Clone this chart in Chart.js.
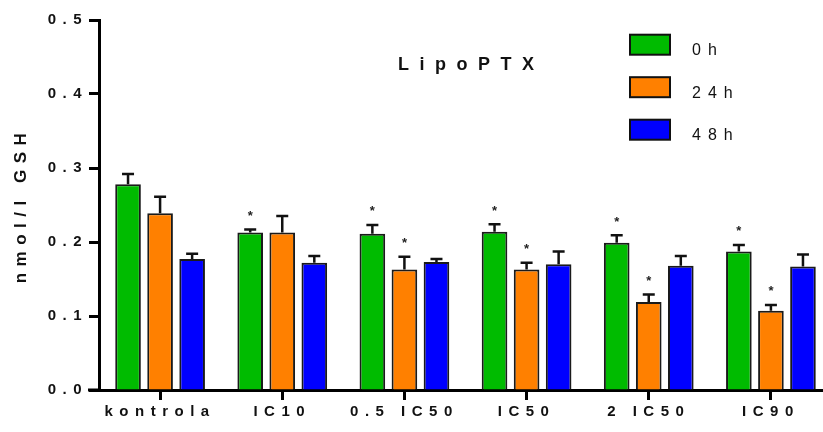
<!DOCTYPE html>
<html>
<head>
<meta charset="utf-8">
<script src="https://cdn.jsdelivr.net/npm/chart.js@4.4.0/dist/chart.umd.min.js"></script>
<style>
html, body { margin: 0; padding: 0; background: #fff; overflow: hidden; }
#wrap { width: 832px; height: 432px; }
</style>
</head>
<body>
<div id="wrap"><canvas id="gshChart" width="832" height="432"></canvas></div>
<script>
// data
var categories = ["kontrola", "IC10", "0.5 IC50", "IC50", "2 IC50", "IC90"];
var seriesNames = ["0h", "24h", "48h"];
var values0h  = [0.278, 0.213, 0.211, 0.214, 0.199, 0.187];
var values24h = [0.239, 0.213, 0.163, 0.163, 0.119, 0.107];
var values48h = [0.177, 0.172, 0.173, 0.170, 0.168, 0.167];
var err0h  = [0.014, 0.004, 0.012, 0.010, 0.010, 0.009];
var err24h = [0.022, 0.022, 0.017, 0.009, 0.010, 0.008];
var err48h = [0.007, 0.009, 0.004, 0.017, 0.013, 0.016];
var sig0h  = [false, true, true, true, true, true];
var sig24h = [false, false, true, true, true, true];
var sig48h = [false, false, false, false, false, false];
var yTicks = [0, 0.1, 0.2, 0.3, 0.4, 0.5];
var chartTitle = "LipoPTX";
var yTitle = "nmol/l GSH";

var FONT = '"Liberation Sans", Arial, sans-serif';
var colors = ["#00BB00", "#FF8000", "#0000FF"];

(function(){

	var spacing = {
		id: 'spacing',
		beforeUpdate: function(chart){ chart.ctx.letterSpacing = '6.5px'; },
		beforeDraw: function(chart){ chart.ctx.letterSpacing = '6.5px'; }
	};

	// error bars + asterisks
	var errorBars = {
		id: 'errorBars',
		afterDatasetsDraw: function(chart){
			var ctx = chart.ctx;
			var y = chart.scales.y;
			ctx.save();
			ctx.letterSpacing = '0px';
			chart.data.datasets.forEach(function(ds, i){
				var meta = chart.getDatasetMeta(i);
				meta.data.forEach(function(bar, j){
					var top = y.getPixelForValue(ds.data[j] + ds.errors[j]);
					ctx.strokeStyle = '#111';
					ctx.lineWidth = 2.5;
					ctx.beginPath();
					ctx.moveTo(bar.x, bar.y);
					ctx.lineTo(bar.x, top);
					ctx.moveTo(bar.x - 6, top);
					ctx.lineTo(bar.x + 6, top);
					ctx.stroke();
					if (ds.sig[j]) {
						ctx.fillStyle = '#222';
						ctx.font = 'bold 13px ' + FONT;
						ctx.textAlign = 'center';
						ctx.textBaseline = 'alphabetic';
						ctx.fillText('*', bar.x, top - 9.5);
					}
				});
			});
			ctx.restore();
		}
	};

	// title inside the plot + legend boxes top right
	var decor = {
		id: 'decor',
		afterDraw: function(chart){
			var ctx = chart.ctx;
			var area = chart.chartArea;
			ctx.save();
			// x axis line runs a little past the y axis, as in the original
			ctx.strokeStyle = '#000';
			ctx.lineWidth = 3;
			ctx.beginPath();
			ctx.moveTo(area.left - 11, area.bottom);
			ctx.lineTo(area.left, area.bottom);
			ctx.stroke();

			ctx.fillStyle = '#111';
			ctx.font = 'bold 18px ' + FONT;
			ctx.letterSpacing = '10.5px';
			ctx.textAlign = 'left';
			ctx.textBaseline = 'alphabetic';
			ctx.fillText(chartTitle, 398, 70);

			ctx.letterSpacing = '7px';
			ctx.font = '16px ' + FONT;
			chart.data.datasets.forEach(function(ds, i){
				var cy = 44.7 + i * 42.5;
				ctx.fillStyle = ds.backgroundColor;
				ctx.fillRect(630, cy - 10, 40, 20);
				ctx.strokeStyle = '#111';
				ctx.lineWidth = 2;
				ctx.strokeRect(630, cy - 10, 40, 20);
				ctx.fillStyle = '#111';
				ctx.fillText(ds.label, 692, cy + 10.5);
			});
			ctx.restore();
		}
	};

	var datasets = [
		{ label: seriesNames[0], data: values0h, errors: err0h, sig: sig0h },
		{ label: seriesNames[1], data: values24h, errors: err24h, sig: sig24h },
		{ label: seriesNames[2], data: values48h, errors: err48h, sig: sig48h }
	].map(function(d, i){
		d.backgroundColor = colors[i];
		d.borderColor = '#1a1a1a';
		d.borderWidth = 2;
		d.categoryPercentage = 0.787;
		d.barPercentage = 0.8;
		return d;
	});

	var ctx = document.getElementById('gshChart').getContext('2d');
	new Chart(ctx, {
		type: 'bar',
		data: { labels: categories, datasets: datasets },
		options: {
			responsive: false,
			animation: false,
			devicePixelRatio: 1,
			layout: { padding: { top: 20, left: 0, right: 0, bottom: 0 } },
			plugins: {
				legend: { display: false },
				tooltip: { enabled: false }
			},
			scales: {
				x: {
					z: 1,
					grid: { offset: false, drawOnChartArea: false, drawTicks: true, tickLength: 10, tickWidth: 3, tickColor: '#000' },
					border: { display: true, color: '#000', width: 3 },
					ticks: { font: { family: FONT, size: 15, weight: 'bold' }, color: '#111', padding: 3, autoSkip: false, maxRotation: 0, minRotation: 0 },
					afterFit: function(scale){ scale.height = 42; }
				},
				y: {
					z: 1,
					min: 0,
					max: 0.5,
					afterBuildTicks: function(scale){
						scale.ticks = yTicks.map(function(v){ return { value: v }; });
					},
					grid: { drawOnChartArea: false, drawTicks: true, tickLength: 10, tickWidth: 3, tickColor: '#000' },
					border: { display: true, color: '#000', width: 3 },
					ticks: {
						font: { family: FONT, size: 15, weight: 'bold' }, color: '#111', padding: 1,
						callback: function(v){ return Number(v).toFixed(1); }
					},
					title: {
						display: true, text: yTitle, color: '#111',
						font: { family: FONT, size: 17, weight: 'bold' },
						padding: { top: 11, bottom: 0 }
					},
					afterFit: function(scale){ scale.width = 99; }
				}
			}
		},
		plugins: [spacing, errorBars, decor]
	});

})();
</script>
</body>
</html>
